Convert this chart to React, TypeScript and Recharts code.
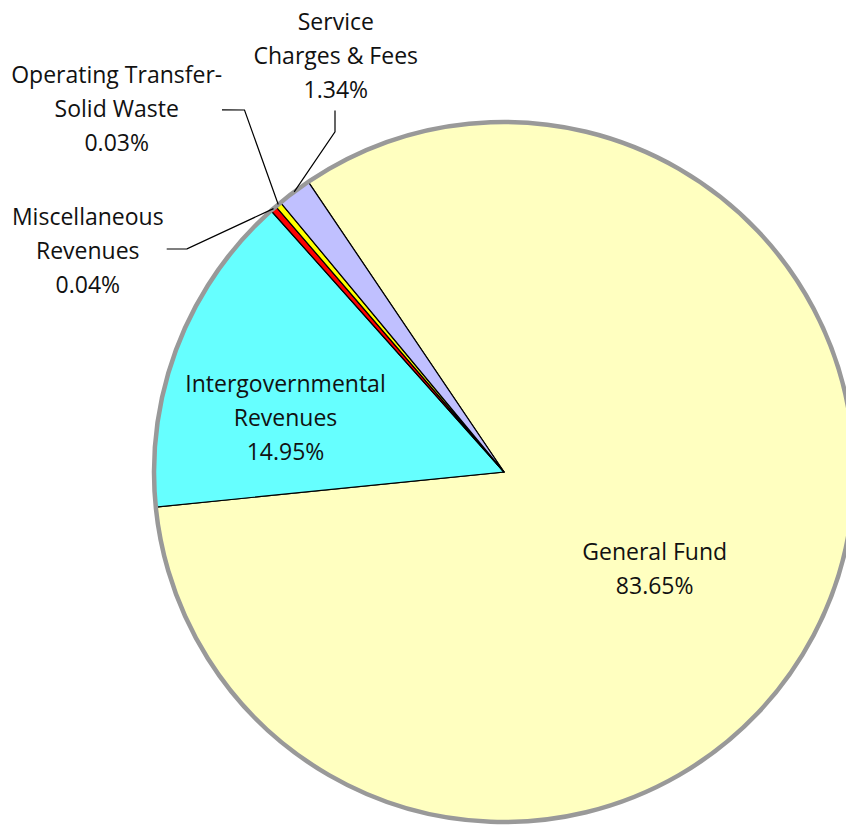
import { PieChart, Pie, Cell } from "recharts"

const categories = [
  "General Fund",
  "Intergovernmental Revenues",
  "Miscellaneous Revenues",
  "Operating Transfer-Solid Waste",
  "Service Charges & Fees",
]
const shares = [83.65, 14.95, 0.04, 0.03, 1.34]
const labelText = [
  ["General Fund"],
  ["Intergovernmental", "Revenues"],
  ["Miscellaneous", "Revenues"],
  ["Operating Transfer-", "Solid Waste"],
  ["Service", "Charges & Fees"],
]

const colors = ["#FFFFC0", "#66FFFF", "#FF0000", "#FFFF00", "#C0C0FF"]

const data = categories.map((name, i) => ({ name, value: shares[i] }))
const ring = [{ name: "ring", value: 1 }]

// where each label sits, relative to the pie centre; leader points end at the slice edge
const layout: { x: number; y: number; leader?: [number, number][] }[] = [
  { x: 150.7, y: 88.2 },
  { x: -218.5, y: -80.2 },
  { x: -416.2, y: -247.5, leader: [[-337.3, -223], [-317, -223.2]] },
  { x: -387.3, y: -389.2, leader: [[-282, -362.2], [-259.5, -362]] },
  { x: -168.2, y: -442.5, leader: [[-169, -361.5], [-169, -340.2]] },
]

const FONT = "'Open Sans', 'Noto Sans', sans-serif"
const LINE = 34.2
const RAD = Math.PI / 180

function renderLabel(props: any) {
  const { cx, cy, midAngle, outerRadius, index, value } = props
  const l = layout[index]
  const lines = [...labelText[index], `${value.toFixed(2)}%`]
  const ex = cx + outerRadius * Math.cos(-midAngle * RAD)
  const ey = cy + outerRadius * Math.sin(-midAngle * RAD)
  return (
    <g key={`lbl-${index}`}>
      {l.leader && (
        <polyline
          points={[...l.leader.map(([x, y]) => `${cx + x},${cy + y}`), `${ex},${ey}`].join(" ")}
          fill="none"
          stroke="#000"
          strokeWidth={1.2}
        />
      )}
      {lines.map((t, k) => (
        <text
          key={k}
          x={cx + l.x}
          y={cy + l.y + k * LINE}
          textAnchor="middle"
          fontFamily={FONT}
          fontSize={23}
          fill="#111"
        >
          {t}
        </text>
      ))}
    </g>
  )
}

export default function App() {
  return (
    <div style={{ position: "absolute", left: 0, top: 0, width: 846, height: 826, overflow: "hidden", background: "#fff" }}>
      <PieChart width={846} height={826} margin={{ top: 0, right: 0, bottom: 0, left: 0 }}>
        <Pie
          data={data}
          dataKey="value"
          nameKey="name"
          cx={504}
          cy={472}
          outerRadius={350}
          startAngle={124}
          endAngle={-236}
          minAngle={0.9}
          stroke="#000"
          strokeWidth={1.2}
          label={renderLabel}
          labelLine={false}
          isAnimationActive={false}
        >
          {data.map((d, i) => (
            <Cell key={d.name} fill={colors[i]} />
          ))}
        </Pie>
        <Pie
          data={ring}
          dataKey="value"
          cx={504}
          cy={472}
          innerRadius={350}
          outerRadius={350}
          fill="none"
          stroke="#999"
          strokeWidth={4.5}
          label={false}
          labelLine={false}
          isAnimationActive={false}
        />
      </PieChart>
    </div>
  )
}
